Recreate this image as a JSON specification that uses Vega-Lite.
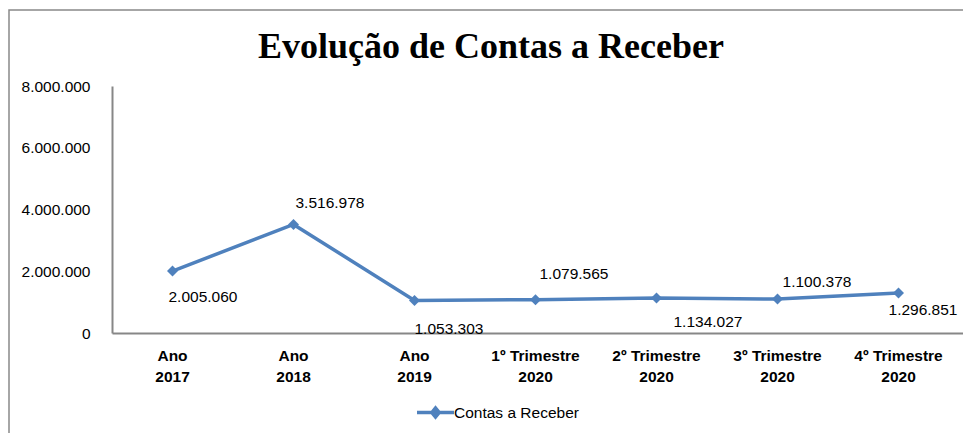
{
  "$schema": "https://vega.github.io/schema/vega-lite/v6.json",
  "width": 954,
  "height": 423,
  "autosize": {"type": "none"},
  "padding": {"left": 9, "top": 10, "right": 0, "bottom": 0},
  "background": "white",
  "config": {
    "locale": {"number": {"decimal": ",", "thousands": ".", "grouping": [3], "currency": ["R$ ", ""]}},
    "font": "Liberation Sans"
  },
  "view": {"stroke": "#898989", "strokeWidth": 1.5, "strokeDash": [954, 1377, 423]},
  "title": {
    "text": "Evolução de Contas a Receber",
    "font": "Liberation Serif",
    "fontSize": 36,
    "fontWeight": "bold",
    "color": "#000000",
    "anchor": "middle",
    "frame": "group",
    "offset": -84,
    "baseline": "alphabetic",
    "dx": 5
  },
  "data": {
    "values": [
      {"periodo": "Ano 2017", "valor": 2005060},
      {"periodo": "Ano 2018", "valor": 3516978},
      {"periodo": "Ano 2019", "valor": 1053303},
      {"periodo": "1º Trimestre 2020", "valor": 1079565},
      {"periodo": "2º Trimestre 2020", "valor": 1134027},
      {"periodo": "3º Trimestre 2020", "valor": 1100378},
      {"periodo": "4º Trimestre 2020", "valor": 1296851}
    ]
  },
  "encoding": {
    "x": {
      "field": "periodo",
      "type": "nominal",
      "sort": null,
      "scale": {"type": "band", "range": [103, 954], "paddingInner": 0, "paddingOuter": 0.0165, "align": 0},
      "axis": {
        "title": null,
        "orient": "bottom",
        "offset": -100,
        "domain": true,
        "domainColor": "#878787",
        "domainWidth": 2,
        "ticks": false,
        "tickSize": 0,
        "grid": false,
        "labelAngle": 0,
        "labelFont": "Liberation Sans",
        "labelFontSize": 15.5,
        "labelFontWeight": "bold",
        "labelColor": "#000000",
        "labelPadding": 15,
        "labelBaseline": "top",
        "labelLineHeight": 21,
        "labelLimit": 0,
        "labelExpr": "[slice(datum.label, 0, lastindexof(datum.label, ' ')), slice(datum.label, lastindexof(datum.label, ' ') + 1)]"
      }
    },
    "y": {
      "field": "valor",
      "type": "quantitative",
      "scale": {"domain": [0, 8000000], "range": [323, 76], "nice": false},
      "axis": {
        "title": null,
        "orient": "left",
        "offset": -103,
        "values": [0, 2000000, 4000000, 6000000, 8000000],
        "format": ",d",
        "domainColor": "#878787",
        "domainWidth": 2,
        "ticks": false,
        "tickSize": 0,
        "grid": false,
        "labelPadding": 22,
        "labelFont": "Liberation Sans",
        "labelFontSize": 15.5,
        "labelColor": "#000000"
      }
    }
  },
  "layer": [
    {"mark": {"type": "line", "color": "#4F81BD", "strokeWidth": 3.5}},
    {
      "mark": {"type": "point", "shape": "diamond", "filled": true, "size": 120, "opacity": 1},
      "encoding": {
        "color": {
          "datum": "Contas a Receber",
          "scale": {"range": ["#4F81BD"]},
          "legend": {
            "title": null,
            "orient": "none",
            "legendX": 406,
            "legendY": 382,
            "padding": 0,
            "symbolType": "M-1,0L1,0M-0.2,0L0,-0.24L0.2,0L0,0.24Z",
            "symbolSize": 1369,
            "symbolStrokeWidth": 3.5,
            "symbolFillColor": "#4F81BD",
            "symbolStrokeColor": "#4F81BD",
            "symbolOpacity": 1,
            "labelFont": "Liberation Sans",
            "labelFontSize": 15.5,
            "labelColor": "#000000",
            "labelOffset": -2
          }
        }
      }
    },
    {
      "mark": {
        "type": "text",
        "align": "left",
        "baseline": "middle",
        "font": "Liberation Sans",
        "fontSize": 15.5,
        "color": "#000000",
        "dx": {"expr": "[-4, 2, 0, 4, 17, 5, -10][indexof(['Ano 2017', 'Ano 2018', 'Ano 2019', '1º Trimestre 2020', '2º Trimestre 2020', '3º Trimestre 2020', '4º Trimestre 2020'], datum.periodo)]"},
        "dy": {"expr": "[26, -21, 29, -26, 24, -17, 17][indexof(['Ano 2017', 'Ano 2018', 'Ano 2019', '1º Trimestre 2020', '2º Trimestre 2020', '3º Trimestre 2020', '4º Trimestre 2020'], datum.periodo)]"}
      },
      "encoding": {
        "text": {"field": "valor", "type": "quantitative", "format": ",d"}
      }
    }
  ]
}
